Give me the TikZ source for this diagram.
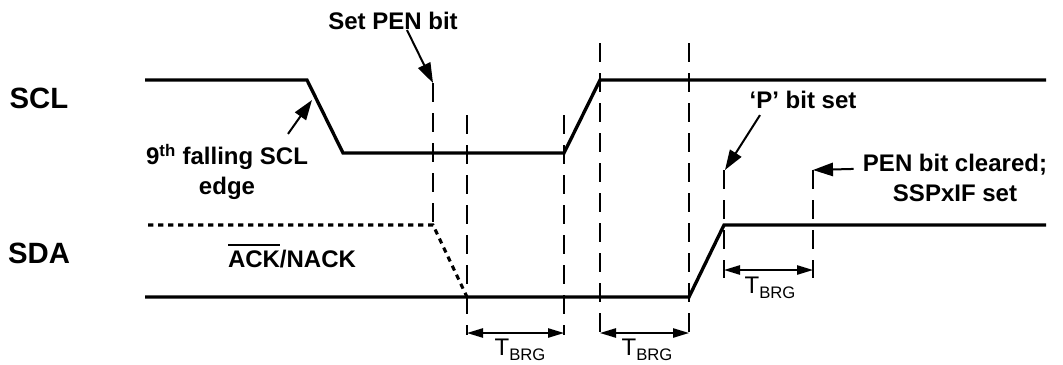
\documentclass[tikz,border=0pt]{standalone}
\usepackage{fontspec}
\setmainfont{Liberation Sans}
\usetikzlibrary{arrows.meta}
\newcommand{\tbrg}{T\raisebox{-0.35ex}{\fontsize{12.5}{12.5}\selectfont BRG}}
\newcommand{\ovbar}[1]{\vbox{\hrule height 1.5pt\kern 3.5pt\hbox{#1}}}

\begin{document}
\begin{tikzpicture}[
    x=0.75pt, y=-0.75pt,
    sigline/.style={line width=2.5pt, line join=miter},
    dotline/.style={line width=2.3pt, dash pattern=on 4pt off 3.5pt},
    guideline/.style={line width=1.5pt, dash pattern=on 14pt off 8.5pt},
    ptr/.style={-{Triangle[length=15pt, width=10pt]}, line width=1.5pt},
    dimarr/.style={{Triangle[length=12pt, width=7pt]}-{Triangle[length=12pt, width=7pt]},
                   line width=1.1pt},
    siglabel/.style={font=\fontsize{22}{26}\selectfont\bfseries, inner sep=0pt},
    note/.style={font=\fontsize{18}{22.5}\selectfont\bfseries, align=center, inner sep=0pt},
    tlabel/.style={font=\fontsize{18}{20}\selectfont, inner sep=0pt}
  ]
    \useasboundingbox (0,0) rectangle (1063,364);

    % guide lines
    \foreach \gx/\gtop/\gbot in {433/83/225, 467/115/335, 564/115/335, 600/43/335,
                                 689/43/335, 724/170/278, 813/170/278}
      \draw[guideline] (\gx,\gtop) -- (\gx,\gbot);

    % signals
    \draw[sigline] (145,80) -- (307,80) -- (343,153) -- (564,153) -- (600,80) -- (1046,80);
    \draw[sigline] (145,297) -- (689,297) -- (724,225) -- (1046,225);
    \draw[dotline] (148,225) -- (433,225) -- (467,297);

    \node[siglabel] (scl) at (39,98) {SCL};
    \node[siglabel] (sda) at (39,253) {SDA};

    \node[note] (setpen) at (393,21) {Set PEN bit};
    \node[note] (ninth) at (227,172) {9\textsuperscript{th} falling SCL\\edge};
    \node[note] (ack) at (292,256) {\ovbar{ACK}/NACK};
    \node[note] (pbit) at (803,100) {‘P’ bit set};
    \node[note] (pencl) at (955,178) {PEN bit cleared;\\SSPxIF set};

    \coordinate (penmark) at (433,83);
    \coordinate (falledge) at (312,100);
    \coordinate (pmark) at (725,170);
    \coordinate (clrmark) at (813,170);
    \draw[ptr] ([xshift=10.5pt]setpen.south) -- (penmark);
    \draw[ptr] ([shift={(61,-10)}]ninth.north) -- (falledge);
    \draw[ptr] ([shift={(-43,6)}]pbit.south) -- (pmark);
    \draw[ptr] ([shift={(-9,15)}]pencl.north west) -- (clrmark);

    % T_BRG spans
    \coordinate (brg1a) at (467,333);
    \coordinate (brg1b) at (564,333);
    \coordinate (brg2a) at (600,333);
    \coordinate (brg2b) at (689,333);
    \coordinate (brg3a) at (724,270);
    \coordinate (brg3b) at (813,270);
    \draw[dimarr] (brg1a) -- (brg1b);
    \draw[dimarr] (brg2a) -- (brg2b);
    \draw[dimarr] (brg3a) -- (brg3b);
    \node[tlabel] (tbrg1) at (520,350) {\tbrg};
    \node[tlabel] (tbrg2) at (647,350) {\tbrg};
    \node[tlabel] (tbrg3) at (770,288) {\tbrg};
  \end{tikzpicture}
\end{document}
